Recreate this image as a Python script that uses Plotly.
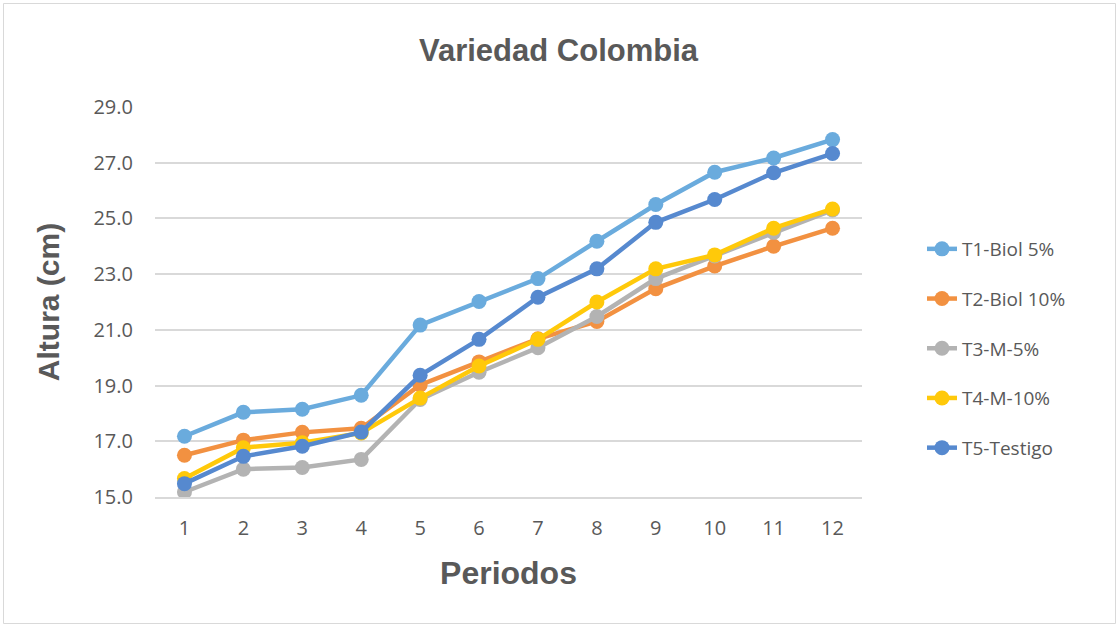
import plotly.graph_objects as go

periodos = [1, 2, 3, 4, 5, 6, 7, 8, 9, 10, 11, 12]
t1_biol5 = [17.18, 18.04, 18.15, 18.65, 21.17, 22.02, 22.84, 24.18, 25.50, 26.66, 27.17, 27.83]
t2_biol10 = [16.50, 17.04, 17.32, 17.47, 19.02, 19.85, 20.68, 21.30, 22.48, 23.29, 24.00, 24.65]
t3_m5 = [15.18, 16.00, 16.06, 16.35, 18.50, 19.48, 20.36, 21.48, 22.84, 23.65, 24.50, 25.30]
t4_m10 = [15.66, 16.77, 16.95, 17.30, 18.55, 19.70, 20.66, 22.00, 23.19, 23.69, 24.65, 25.34]
t5_testigo = [15.48, 16.46, 16.82, 17.33, 19.37, 20.66, 22.17, 23.19, 24.86, 25.68, 26.64, 27.33]

series_names = ["T1-Biol 5%", "T2-Biol 10%", "T3-M-5%", "T4-M-10%", "T5-Testigo"]
series_values = [t1_biol5, t2_biol10, t3_m5, t4_m10, t5_testigo]
series_colors = ["#6aabdd", "#f29141", "#b3b3b3", "#ffc90a", "#5689cf"]

y_ticks = [15, 17, 19, 21, 23, 25, 27, 29]
y_ticklabels = ["15.0", "17.0", "19.0", "21.0", "23.0", "25.0", "27.0", "29.0"]

fig = go.Figure()
for name, vals, col in zip(series_names, series_values, series_colors):
    fig.add_trace(go.Scatter(
        x=periodos, y=vals, name=name, mode="lines+markers",
        legendgroup=name,
        line=dict(color=col, width=4.5),
        marker=dict(color=col, size=15, line=dict(width=0)),
    ))

W, H = 1117, 626
L, R, T, B = 155, 255, 107, 129
pw, ph = W - L - R, H - T - B

def px_x(x):
    return (x - L) / pw

def px_y(y):
    return (H - B - y) / ph

fig.update_layout(
    width=W, height=H,
    margin=dict(l=L, r=R, t=T, b=B),
    paper_bgcolor="white", plot_bgcolor="white",
    title=dict(text="<b>Variedad Colombia</b>", x=0.5, xanchor="center",
               y=1 - 50 / H, yanchor="middle",
               font=dict(family="Liberation Sans, Arial", size=31, color="#595959")),
    legend=dict(x=px_x(922), xanchor="left", y=px_y(230), yanchor="top",
                font=dict(family="Open Sans", size=19, color="#595959"),
                tracegroupgap=22, bgcolor="rgba(0,0,0,0)"),
    showlegend=True,
    shapes=[dict(type="rect", xref="paper", yref="paper",
                 x0=px_x(3.5), x1=px_x(1115.5), y0=px_y(623.5), y1=px_y(3.5),
                 line=dict(color="#d9d9d9", width=1), layer="below")],
)
fig.update_xaxes(
    range=[0.5, 12.5], tickmode="array", tickvals=periodos,
    ticktext=[str(p) for p in periodos],
    showgrid=False, zeroline=False,
    showline=True, linecolor="#d9d9d9", linewidth=1.5,
    ticks="", ticklabelstandoff=12,
    tickfont=dict(family="Open Sans", size=20, color="#595959"),
    title=dict(text="<b>Periodos</b>", standoff=22,
               font=dict(family="Liberation Sans, Arial", size=32, color="#595959")),
)
fig.update_yaxes(
    range=[15, 29], tickmode="array", tickvals=y_ticks, ticktext=y_ticklabels,
    showgrid=True, gridcolor="#d9d9d9", gridwidth=1.5, zeroline=False,
    showline=False, ticks="", ticklabelstandoff=21,
    tickfont=dict(family="Open Sans", size=20, color="#595959"),
    title=dict(text="<b>Altura (cm)</b>", standoff=24,
               font=dict(family="Liberation Sans, Arial", size=30, color="#595959")),
)

fig.write_html("out.html", config={"displayModeBar": False},
               post_script="document.body.style.margin='0';")
